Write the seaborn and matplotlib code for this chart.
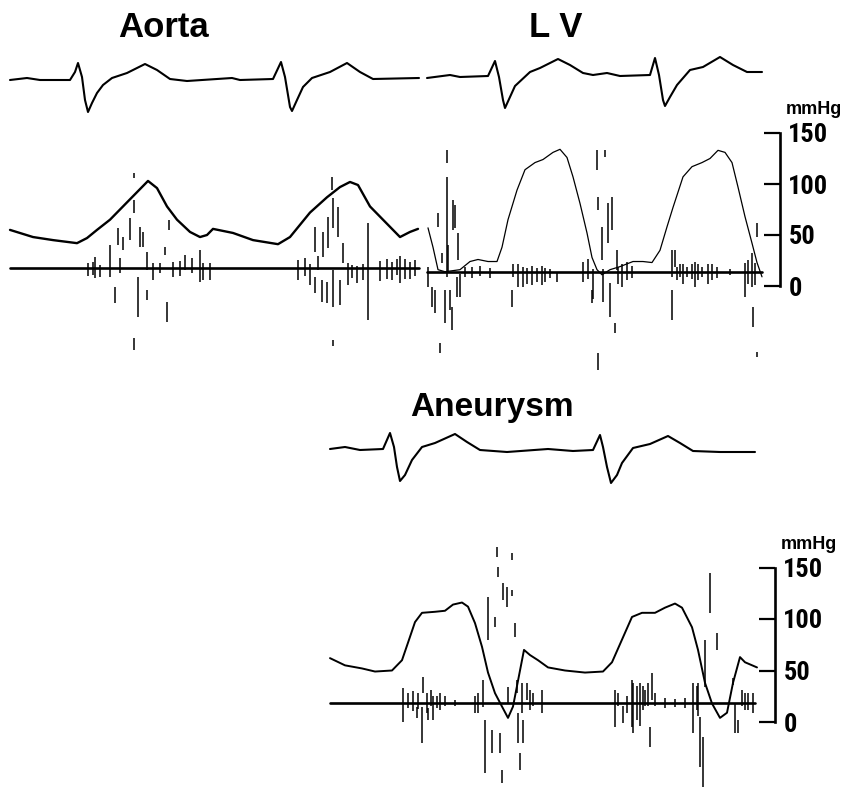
import matplotlib
matplotlib.use("Agg")
import matplotlib.pyplot as plt
from matplotlib import font_manager
import seaborn as sns

# ---- Data (time in ms from the left edge of the strip) ----

# ECG, mV
AORTA_ECG_T = [50, 135, 200, 350, 375, 390, 410, 425, 440, 460, 485, 515, 560, 635, 725, 785, 850, 935,
               1160, 1200, 1365, 1405, 1425, 1450, 1460, 1485, 1515, 1560, 1650, 1735, 1800, 1865, 2095]
AORTA_ECG_MV = [0, 0.1, 0, 0, 0.4, 0.85, 0.15, -1.0, -1.6, -1.15, -0.65, -0.25, 0.1, 0.35, 0.8, 0.5, 0.05, -0.05,
                0.1, 0, 0.05, 0.9, 0.15, -1.35, -1.55, -1.0, -0.35, 0.1, 0.4, 0.85, 0.4, 0.05, 0.1]

LV_ECG_T = [2135, 2250, 2300, 2440, 2475, 2495, 2515, 2525, 2550, 2575, 2650, 2700, 2790, 2850, 2915, 2965,
            3035, 3100, 3250, 3275, 3295, 3315, 3325, 3350, 3385, 3450, 3515, 3600, 3665, 3735, 3810]
LV_ECG_MV = [0.1, 0.25, 0.15, 0.2, 0.95, 0.15, -1.0, -1.4, -0.85, -0.3, 0.4, 0.6, 1.05, 0.75, 0.35, 0.25,
             0.35, 0.2, 0.25, 1.1, 0.25, -1.0, -1.3, -0.85, -0.25, 0.5, 0.65, 1.15, 0.75, 0.4, 0.4]

ANEU_ECG_T = [1650, 1725, 1800, 1915, 1950, 1970, 1985, 2000, 2025, 2060, 2110, 2175, 2275, 2335, 2400, 2535,
              2740, 2865, 2965, 3000, 3015, 3035, 3055, 3085, 3110, 3165, 3250, 3340, 3400, 3465, 3600, 3775]
ANEU_ECG_MV = [0, 0.1, -0.05, 0, 0.8, 0.1, -0.9, -1.6, -1.3, -0.55, 0.1, 0.3, 0.75, 0.35, -0.05, -0.15,
               0, -0.1, -0.05, 0.7, 0.1, -0.9, -1.7, -1.3, -0.7, 0.05, 0.25, 0.65, 0.3, -0.1, -0.15, -0.15]

# pressure, mmHg
AORTA_P_T = [50, 165, 265, 385, 435, 485, 550, 615, 685, 740, 785, 835, 885, 950, 1000, 1035, 1065,
             1165, 1265, 1390, 1450, 1550, 1635, 1700, 1750, 1790, 1850, 1915, 2000, 2050, 2090]
AORTA_P = [55, 48, 45, 42, 47, 55, 65, 78, 92, 103, 96, 78, 65, 53, 48, 50, 56,
           52, 45, 41, 48, 72, 87, 97, 102, 99, 78, 65, 48, 53, 56]

LV_P_T = [2140, 2165, 2190, 2225, 2300, 2350, 2390, 2440, 2485, 2510, 2540, 2585, 2625, 2675, 2715,
          2765, 2800, 2835, 2865, 2900, 2935, 2960, 2985, 3010, 3050, 3100, 3165, 3215, 3260, 3300,
          3335, 3365, 3415, 3460, 3510, 3550, 3590, 3625, 3660, 3690, 3725, 3760, 3785, 3810]
LV_P = [57, 38, 16, 14, 16, 24, 26, 24, 24, 38, 65, 94, 114, 121, 124,
        131, 134, 126, 107, 81, 52, 28, 16, 11, 16, 19, 24, 24, 23, 35,
        58, 77, 107, 117, 121, 125, 133, 131, 121, 97, 68, 42, 23, 9]

ANEU_P_T = [1650, 1725, 1810, 1875, 1960, 2010, 2040, 2075, 2110, 2175, 2225, 2265, 2310, 2340, 2375,
            2410, 2440, 2475, 2510, 2540, 2565, 2600, 2620, 2650, 2690, 2740, 2825, 2925, 3015, 3060,
            3110, 3160, 3210, 3275, 3325, 3375, 3410, 3460, 3490, 3525, 3560, 3600, 3635, 3665, 3700,
            3725, 3785]
ANEU_P = [62, 55, 52, 49, 50, 60, 77, 97, 106, 107, 108, 114, 116, 112, 96,
          73, 48, 28, 15, 4, 15, 50, 70, 65, 60, 53, 50, 48, 49, 58,
          80, 102, 106, 106, 111, 115, 111, 92, 70, 38, 18, 4, 9, 38, 63,
          58, 53]

# phonocardiogram: baseline span and deflections (top / bottom, arbitrary units)
AORTA_PCG_SPAN = [50, 2095]
AORTA_PCG_T = [440, 465, 475, 500, 550, 575, 590, 600, 615, 650, 670, 670, 670, 690, 700, 715, 735, 735,
               765, 800, 825, 835, 845, 865, 900, 925, 960, 1000, 1015, 1050,
               1490, 1525, 1550, 1575, 1575, 1590, 1610, 1615, 1635, 1640, 1660, 1665, 1665, 1665, 1690,
               1700, 1715, 1740, 1760, 1785, 1815, 1840, 1900, 1935, 1960, 1985, 2000, 2025, 2050, 2075]
AORTA_PCG_HI = [5, 6, 11, 3, 23, -19, 40, 10, 31, 50, 95, 68, -70, -9, 41, 36, 16, -22,
                5, 5, 21, -34, 48, 6, 7, 13, 10, 18, 5, 5,
                8, 10, 4, 41, -9, 12, -12, 36, -14, 51, 91, 70, -2, -72, 61,
                -12, 25, 5, 3, 2, 4, 45, 7, 9, 6, 9, 12, 9, 6, 8]
AORTA_PCG_LO = [-8, -7, -10, -9, -9, -35, 23, -5, 18, 28, 90, 55, -82, -49, 21, 21, -2, -32,
                -12, -5, 13, -54, 38, -9, -8, -2, -5, -14, -12, -12,
                -12, -8, -17, 16, -25, -2, -34, 11, -35, 20, 78, 40, -39, -78, 31,
                -37, 5, -17, -10, -15, -12, -52, -13, -11, -12, -7, -15, -11, -11, -8]

LV_PCG_SPAN = [2135, 3810]
LV_PCG_T = [2140, 2160, 2175, 2190, 2200, 2210, 2215, 2225, 2235, 2235, 2240, 2250, 2260, 2265, 2275,
            2285, 2290, 2300, 2325, 2360, 2400, 2450,
            2560, 2565, 2590, 2615, 2635, 2660, 2685, 2710, 2725, 2750, 2785,
            2915, 2940, 2960, 2965, 2985, 2990, 2990, 3010, 3015, 3025, 3040, 3050, 3060, 3075,
            3085, 3090, 3110, 3135, 3160,
            3360, 3360, 3375, 3385, 3400, 3415, 3435, 3460, 3475, 3490, 3510, 3540, 3560, 3585,
            3650, 3725, 3740, 3760, 3765, 3775, 3785, 3785]
LV_PCG_HI = [5, -15, -18, 59, -71, 19, 142, -18, 122, 95, 27, -18, -35, 72, 67,
             -5, 39, -2, 5, 5, 6, 4,
             -18, 8, 8, 5, 4, 6, 4, 6, 4, 3, 0,
             10, 13, -18, 3, 142, 75, -81, 45, 3, 142, 69, -11, 75, -51,
             22, 5, 8, 10, 6,
             22, -18, 22, 5, 8, 8, 5, 8, 10, 8, 5, 8, 8, 5,
             3, 9, 12, 19, -35, 9, 49, -80]
LV_PCG_LO = [-15, -35, -41, 45, -81, 9, 132, -51, 109, -5, 0, -38, -58, 42, 44,
             -25, 12, -25, -5, -6, -4, -6,
             -35, -5, -15, -15, -12, -13, -10, -13, -10, -6, -10,
             -10, -7, -31, -27, 102, 62, -98, 12, -30, 115, 29, -45, 42, -61,
             2, -12, -15, -8, -6,
             -5, -48, 5, -8, -5, -12, -5, -7, -15, -8, -5, -12, -8, -6,
             -3, -25, -12, -15, -55, -13, 35, -85]

ANEU_PCG_SPAN = [1650, 3775]
ANEU_PCG_T = [2015, 2040, 2065, 2085, 2090, 2110, 2115, 2135, 2140, 2155, 2165, 2185, 2200, 2225, 2275,
              2375, 2390, 2415, 2425, 2440, 2460, 2475, 2485, 2490, 2500, 2510, 2515, 2535, 2540, 2560,
              2560, 2575, 2585, 2590, 2600, 2610, 2615, 2635, 2650, 2665, 2710,
              3075, 3090, 3115, 3135, 3160, 3165, 3185, 3200, 3215, 3225, 3240, 3250, 3260, 3275,
              3325, 3375, 3425, 3465, 3485, 3490, 3500, 3515, 3525, 3550, 3585, 3665, 3675, 3690,
              3710, 3725, 3740, 3765]
ANEU_PCG_HI = [15, 10, 12, -4, 10, -4, 26, 10, -5, 13, 7, 7, 10, 7, 3,
               7, 10, 23, -17, 106, -27, 86, 156, 136, -30, -67, 120, 116, 16, 150,
               113, 80, 23, -10, -50, 20, -17, 20, 13, 10, 13,
               13, 10, -3, 7, 23, 20, 17, 20, 17, 13, 20, -24, 30, 10,
               5, 4, 5, 20, 17, 20, -14, -34, 63, 130, 70, 25, 0, -17,
               13, 10, 10, 10]
ANEU_PCG_LO = [-19, -5, -8, -15, -6, -40, 10, -10, -17, -3, -17, -5, -7, -3, -3,
               -10, -10, -4, -70, 63, -50, 76, 146, 126, -50, -80, 103, 96, 0, 143,
               107, 66, 10, -40, -67, -10, -40, 3, -7, -3, -10,
               -24, -3, -20, -10, -24, -30, -17, -23, -7, -3, -3, -44, 3, -3,
               -5, -4, -5, -30, -7, -13, -64, -84, 16, 90, 53, 18, -30, -30,
               -3, -7, -7, -10]

PRESSURE_TICKS = [0, 50, 100, 150]

# ---- Layout (pixels of the 848 x 795 page) ----
W, H = 848, 795
MS_PER_PX = 5

sns.set_theme(style="white")
plt.rcParams["font.family"] = ["Liberation Sans", "DejaVu Sans"]
plt.rcParams["text.color"] = "black"
installed = {f.name for f in font_manager.fontManager.ttflist}
narrow = "Liberation Sans"
for cand in ["Liberation Sans Narrow", "Roboto Condensed", "Open Sans Condensed", "DejaVu Sans Condensed"]:
    if cand in installed:
        narrow = cand
        break

fig = plt.figure(figsize=(W / 100, H / 100), dpi=100)
fig.patch.set_facecolor("white")


def strip(y0, y1, zero_px, px_per_unit):
    ax = fig.add_axes([0, 1 - y1 / H, 1, (y1 - y0) / H])
    ax.patch.set_alpha(0)
    for s in ax.spines.values():
        s.set_visible(False)
    ax.set_xlim(0, W * MS_PER_PX)
    ax.set_ylim((zero_px - y1) / px_per_unit, (zero_px - y0) / px_per_unit)
    return ax


def trace(ax, t, v, lw, off=0.0):
    sns.lineplot(x=t, y=[a + off for a in v], ax=ax, color="black", linewidth=lw,
                 sort=False, estimator=None)


def phono(ax, span, t, hi, lo, off=0.0):
    sns.lineplot(x=span, y=[off, off], ax=ax, color="black", linewidth=1.9,
                 sort=False, estimator=None)
    ax.vlines(t, [a + off for a in lo], [a + off for a in hi], color="black", linewidth=1.1)


def finish(ax, y0, y1, zero_px, px_per_unit, scale_px=None):
    ax.set_xlim(0, W * MS_PER_PX)
    ax.set_ylim((zero_px - y1) / px_per_unit, (zero_px - y0) / px_per_unit)
    ax.set_xlabel("")
    ax.set_ylabel("")
    ax.set_xticks([])
    if scale_px is None:
        ax.set_yticks([])
        return
    sp = ax.spines["right"]
    sp.set_visible(True)
    sp.set_position(("data", scale_px * MS_PER_PX))
    sp.set_bounds(0, 150)
    sp.set_linewidth(1.9)
    sp.set_color("black")
    ax.set_yticks(PRESSURE_TICKS)
    ax.set_yticklabels([str(v) for v in PRESSURE_TICKS])
    ax.tick_params(axis="y", which="both", left=False, labelleft=False, right=True, labelright=True,
                   direction="in", length=11.5, width=1.6, color="black", pad=6)
    for lab in ax.get_yticklabels():
        lab.set_fontfamily(narrow)
        lab.set_fontweight("bold")
        lab.set_fontsize(19)
        lab.set_color("black")


# top strip: Aorta | LV
ecg_top = strip(40, 130, 80, 20)
trace(ecg_top, AORTA_ECG_T, AORTA_ECG_MV, 1.5)
trace(ecg_top, LV_ECG_T, LV_ECG_MV, 1.5)
finish(ecg_top, 40, 130, 80, 20)

pcg_top = strip(150, 390, 268, 1)
phono(pcg_top, AORTA_PCG_SPAN, AORTA_PCG_T, AORTA_PCG_HI, AORTA_PCG_LO)
phono(pcg_top, LV_PCG_SPAN, LV_PCG_T, LV_PCG_HI, LV_PCG_LO, off=-4)
finish(pcg_top, 150, 390, 268, 1)

p_top = strip(100, 390, 286, 1.02)
trace(p_top, AORTA_P_T, AORTA_P, 1.7)
trace(p_top, LV_P_T, LV_P, 0.9)
finish(p_top, 100, 390, 286, 1.02, scale_px=780)

# bottom strip: Aneurysm
ecg_bot = strip(405, 500, 449, 20)
trace(ecg_bot, ANEU_ECG_T, ANEU_ECG_MV, 1.5)
finish(ecg_bot, 405, 500, 449, 20)

pcg_bot = strip(530, 795, 703, 1)
phono(pcg_bot, ANEU_PCG_SPAN, ANEU_PCG_T, ANEU_PCG_HI, ANEU_PCG_LO)
finish(pcg_bot, 530, 795, 703, 1)

p_bot = strip(530, 795, 722, 1.03)
trace(p_bot, ANEU_P_T, ANEU_P, 1.4)
finish(p_bot, 530, 795, 722, 1.03, scale_px=775)

# titles and units
title_kw = dict(ha="center", va="baseline", fontweight="bold", color="black")
fig.text(163 / W, 1 - 37 / H, "Aorta", fontsize=25, **title_kw)
fig.text(556 / W, 1 - 37 / H, "L V", fontsize=25, **title_kw)
fig.text(492 / W, 1 - 416 / H, "Aneurysm", fontsize=24, **title_kw)
fig.text(814 / W, 1 - 114 / H, "mmHg", fontsize=13, **title_kw)
fig.text(809 / W, 1 - 549 / H, "mmHg", fontsize=13, **title_kw)

fig.savefig("out.png", dpi=100, facecolor="white")
